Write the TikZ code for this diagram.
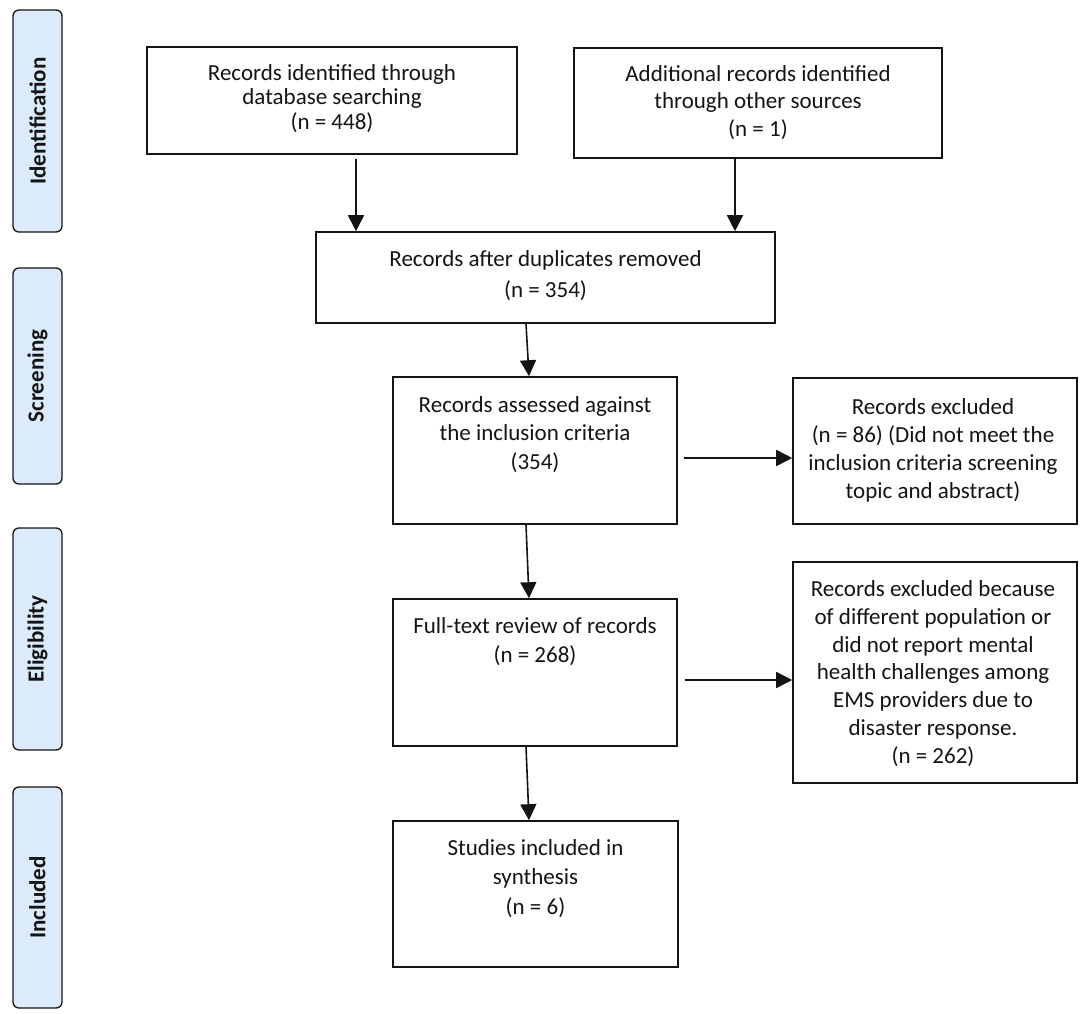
\documentclass[tikz,border=0pt]{standalone}
\usepackage{fontspec}
\setmainfont{Carlito}
\usetikzlibrary{arrows.meta}
\definecolor{phasefill}{RGB}{220,235,251}
\definecolor{ink}{RGB}{20,20,20}
\newcommand{\fl}{\rule{0pt}{20pt}}
\begin{document}
\begin{tikzpicture}[x=1pt,y=-1pt,
  box/.style={draw=ink, line width=1.6pt, rectangle, inner sep=0pt},
  txt/.style={align=center, inner sep=0pt, anchor=north, text=ink},
  phase/.style={draw=ink, fill=phasefill, line width=1.3pt, rounded corners=6pt,
    minimum width=49pt, inner sep=0pt},
  phasetxt/.style={rotate=90, font=\fontsize{23}{27}\selectfont\bfseries, text=ink, inner sep=0pt},
  arr/.style={draw=ink, line width=1.6pt, -{Triangle[length=16pt,width=16pt]}}]
\useasboundingbox (0,0) rectangle (1084,1014);

% phase labels
\node[phase, minimum height=222pt] (p1) at (37.5,121) {};
\node[phasetxt] (p1t) at (p1.center) {Identification};
\node[phase, minimum height=216pt] (p2) at (37.5,376) {};
\node[phasetxt] (p2t) at (p2.center) {Screening};
\node[phase, minimum height=222pt] (p3) at (37.5,639) {};
\node[phasetxt] (p3t) at (p3.center) {Eligibility};
\node[phase, minimum height=221pt] (p4) at (37.5,897.5) {};
\node[phasetxt] (p4t) at (p4.center) {Included};

% boxes
\node[box, minimum width=370pt, minimum height=107pt] (b1) at (332,100.5) {};
\node[txt, font=\fontsize{23}{24.5}\selectfont] (t1) at ([yshift=-14pt]b1.north)
  {\fl Records identified through\\database searching\\(n = 448)};

\node[box, minimum width=368pt, minimum height=110pt] (b2) at (758,103) {};
\node[txt, font=\fontsize{23}{27.5}\selectfont] (t2) at ([yshift=-14pt]b2.north)
  {\fl Additional records identified\\through other sources\\(n = 1)};

\node[box, minimum width=459pt, minimum height=91pt] (b3) at (545.5,277.5) {};
\node[txt, font=\fontsize{23}{31}\selectfont] (t3) at ([yshift=-15pt]b3.north)
  {\fl Records after duplicates removed\\(n = 354)};

\node[box, minimum width=284pt, minimum height=147pt] (b4) at (535,450.5) {};
\node[txt, font=\fontsize{23}{28.5}\selectfont] (t4) at ([yshift=-16pt]b4.north)
  {\fl Records assessed against\\the inclusion criteria\\(354)};

\node[box, minimum width=284pt, minimum height=146pt] (b5) at (935,451) {};
\node[txt, font=\fontsize{23}{28}\selectfont] (t5) at ([yshift=-17pt,xshift=-2pt]b5.north)
  {\fl Records excluded\\(n = 86) (Did not meet the\\inclusion criteria screening\\topic and abstract)};

\node[box, minimum width=284pt, minimum height=147pt] (b6) at (535,672.5) {};
\node[txt, font=\fontsize{23}{29}\selectfont] (t6) at ([yshift=-15pt]b6.north)
  {\fl Full-text review of records\\(n = 268)};

\node[box, minimum width=284pt, minimum height=221pt] (b7) at (935,672.5) {};
\node[txt, font=\fontsize{23}{27.8}\selectfont] (t7) at ([yshift=-15pt,xshift=-2pt]b7.north)
  {\fl Records excluded because\\of different population or\\did not report mental\\health challenges among\\EMS providers due to\\disaster response.\\(n = 262)};

\node[box, minimum width=285pt, minimum height=146pt] (b8) at (535.5,894) {};
\node[txt, font=\fontsize{23}{29.5}\selectfont] (t8) at ([yshift=-15pt]b8.north)
  {\fl Studies included in\\synthesis\\(n = 6)};

% connectors
\draw[arr] ([xshift=24pt,yshift=-4pt]b1.south) -- ([xshift=-189.5pt]b3.north);
\draw[arr] ([xshift=-23pt]b2.south) -- ([xshift=189.5pt]b3.north);
\draw[arr] ([xshift=-19.5pt]b3.south) -- ([xshift=-6pt]b4.north);
\draw[arr] ([xshift=-9pt]b4.south) -- ([xshift=-6pt]b6.north);
\draw[arr] ([xshift=-9pt]b6.south) -- ([xshift=-6.5pt]b8.north);
\draw[arr] ([xshift=6pt,yshift=-7.5pt]b4.east) -- ([yshift=-7pt]b5.west);
\draw[arr] ([xshift=7pt,yshift=-7.5pt]b6.east) -- ([yshift=-7.5pt]b7.west);
\end{tikzpicture}
\end{document}
